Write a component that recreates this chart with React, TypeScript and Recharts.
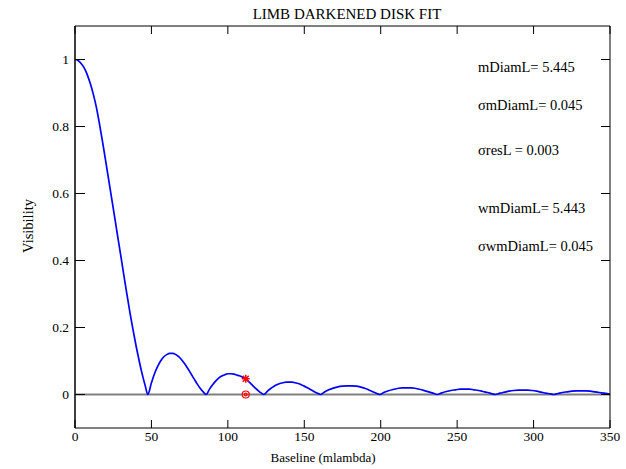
import React from 'react';
import { ComposedChart, Line, Scatter, XAxis, YAxis, ReferenceLine } from 'recharts';

// baseline (mlambda) and fitted visibility
const baseline = [
  0, 2, 4, 6, 8, 10, 12, 14, 16, 18, 20, 22, 24, 26, 28, 30, 32, 34, 36, 38, 40, 42, 44, 46, 47.6,
  50, 52, 54, 56, 58, 60, 62, 64, 66, 68, 70, 72, 74, 76, 78, 80, 82, 84, 85.8,
  88, 90, 92, 94, 96, 98, 100, 102, 104, 106, 108, 110, 112, 114, 116, 118, 120, 122, 123.5,
  126, 128, 130, 132, 134, 136, 138, 140, 142, 144, 146, 148, 150, 152, 154, 156, 158, 160.8,
  163, 166, 169, 172, 175, 178, 181, 184, 187, 190, 193, 196, 199.5,
  202, 205, 208, 211, 214, 217, 220, 223, 226, 229, 232, 235, 237,
  240, 243, 246, 249, 252, 255, 258, 261, 264, 267, 270, 273, 275,
  278, 281, 284, 287, 290, 293, 296, 299, 302, 305, 308, 311, 313,
  316, 319, 322, 325, 328, 331, 334, 337, 340, 343, 346, 349, 350,
];
const visibility = [
  1, 0.997, 0.988, 0.975, 0.955, 0.928, 0.896, 0.857, 0.808, 0.755, 0.699, 0.642, 0.585, 0.528, 0.47, 0.413, 0.355, 0.298, 0.243, 0.192, 0.144, 0.1, 0.06, 0.025, 0,
  0.035, 0.062, 0.083, 0.1, 0.112, 0.119, 0.123, 0.123, 0.119, 0.112, 0.102, 0.09, 0.076, 0.061, 0.046, 0.031, 0.018, 0.007, 0,
  0.016, 0.029, 0.04, 0.049, 0.055, 0.059, 0.062, 0.062, 0.061, 0.058, 0.055, 0.051, 0.045, 0.037, 0.028, 0.019, 0.011, 0.004, 0,
  0.01, 0.018, 0.024, 0.029, 0.033, 0.035, 0.037, 0.037, 0.037, 0.035, 0.033, 0.029, 0.025, 0.02, 0.015, 0.01, 0.005, 0,
  0.007, 0.014, 0.019, 0.023, 0.025, 0.026, 0.026, 0.025, 0.022, 0.018, 0.012, 0.006, 0,
  0.006, 0.011, 0.015, 0.018, 0.02, 0.02, 0.02, 0.018, 0.015, 0.011, 0.007, 0.003, 0,
  0.005, 0.009, 0.012, 0.014, 0.016, 0.016, 0.016, 0.014, 0.012, 0.009, 0.006, 0.002, 0,
  0.004, 0.007, 0.01, 0.012, 0.013, 0.013, 0.013, 0.012, 0.01, 0.007, 0.004, 0.002, 0,
  0.003, 0.006, 0.008, 0.01, 0.011, 0.011, 0.011, 0.01, 0.008, 0.006, 0.004, 0.002, 0.001,
];

// measured point (star) and its residual (circle)
const measured = [{ x: 111.7, y: 0.047 }];
const residual = [{ x: 111.7, y: 0 }];

const xTicks = [0, 50, 100, 150, 200, 250, 300, 350];
const yTicks = [0, 0.2, 0.4, 0.6, 0.8, 1];

const notes = [
  { text: 'mDiamL= 5.445', top: 67 },
  { text: 'σmDiamL= 0.045', top: 105 },
  { text: 'σresL = 0.003', top: 150 },
  { text: 'wmDiamL= 5.443', top: 208 },
  { text: 'σwmDiamL= 0.045', top: 246 },
];

const curve = baseline.map((x, i) => ({ x, y: visibility[i] }));

const FONT = '"Liberation Serif", "Times New Roman", serif';

const LeftTick = (props: any) => {
  const { x, y, payload } = props;
  return (
    <g>
      <line x1={x} x2={x + 10} y1={y} y2={y} stroke="#000" />
      <text x={x - 6} y={y} dy={4.5} textAnchor="end" fontFamily={FONT} fontSize={13.5} fill="#000">
        {payload.value}
      </text>
    </g>
  );
};

const RightTick = (props: any) => {
  const { x, y } = props;
  return <line x1={x} x2={x - 9} y1={y} y2={y} stroke="#000" />;
};

const BottomTick = (props: any) => {
  const { x, y, payload } = props;
  return (
    <g>
      <line x1={x} x2={x} y1={y} y2={y - 8} stroke="#000" />
      <text x={x} y={y + 13} textAnchor="middle" fontFamily={FONT} fontSize={13.5} fill="#000">
        {payload.value}
      </text>
    </g>
  );
};

const TopTick = (props: any) => {
  const { x, y } = props;
  return <line x1={x} x2={x} y1={y} y2={y + 8} stroke="#000" />;
};

const Star = (props: any) => {
  const { cx, cy } = props;
  const r = 4;
  return (
    <g stroke="#ff0000" strokeWidth={1.5}>
      <line x1={cx - r} x2={cx + r} y1={cy} y2={cy} />
      <line x1={cx} x2={cx} y1={cy - r} y2={cy + r} />
      <line x1={cx - 3} x2={cx + 3} y1={cy - 3} y2={cy + 3} />
      <line x1={cx - 3} x2={cx + 3} y1={cy + 3} y2={cy - 3} />
    </g>
  );
};

const Ring = (props: any) => {
  const { cx, cy } = props;
  return (
    <g stroke="#ff0000" fill="none" strokeWidth={1.2}>
      <circle cx={cx} cy={cy} r={3.5} />
      <circle cx={cx} cy={cy} r={1.4} />
    </g>
  );
};

export default function App() {
  return (
    <div style={{ position: 'absolute', left: 0, top: 0, width: 626, height: 469, background: '#fff', fontFamily: FONT }}>
      <ComposedChart width={626} height={469} margin={{ top: 16, right: 6, left: 15, bottom: 11 }}>
        <XAxis
          xAxisId="b"
          dataKey="x"
          type="number"
          domain={[0, 350]}
          ticks={xTicks}
          height={30}
          tickSize={0}
          tickMargin={0}
          tickLine={false}
          axisLine={{ stroke: '#000' }}
          tick={<BottomTick />}
          allowDataOverflow
        />
        <XAxis
          xAxisId="t"
          orientation="top"
          dataKey="x"
          type="number"
          domain={[0, 350]}
          ticks={xTicks}
          height={10}
          tickSize={0}
          tickMargin={0}
          tickLine={false}
          axisLine={{ stroke: '#000' }}
          tick={<TopTick />}
          allowDataOverflow
        />
        <YAxis
          yAxisId="l"
          type="number"
          domain={[-0.1, 1.1]}
          ticks={yTicks}
          width={60}
          tickSize={0}
          tickMargin={0}
          tickLine={false}
          axisLine={{ stroke: '#000' }}
          tick={<LeftTick />}
          allowDataOverflow
        />
        <YAxis
          yAxisId="r"
          orientation="right"
          type="number"
          domain={[-0.1, 1.1]}
          ticks={yTicks}
          width={10}
          tickSize={0}
          tickMargin={0}
          tickLine={false}
          axisLine={{ stroke: '#000' }}
          tick={<RightTick />}
          allowDataOverflow
        />
        <ReferenceLine xAxisId="b" yAxisId="l" y={0} stroke="#808080" strokeWidth={2} />
        <ReferenceLine xAxisId="b" yAxisId="l" x={0} stroke="#808080" strokeWidth={2} />
        <Line
          xAxisId="b"
          yAxisId="l"
          data={curve}
          dataKey="y"
          type="monotone"
          stroke="#0000ff"
          strokeWidth={1.7}
          dot={false}
          isAnimationActive={false}
        />
        <Scatter xAxisId="b" yAxisId="l" data={residual} dataKey="y" shape={<Ring />} isAnimationActive={false} />
        <Scatter xAxisId="b" yAxisId="l" data={measured} dataKey="y" shape={<Star />} isAnimationActive={false} />
      </ComposedChart>

      <div style={{ position: 'absolute', left: 247, width: 200, top: 4, textAlign: 'center', fontSize: 15, lineHeight: '20px', whiteSpace: 'nowrap', color: '#000' }}>
        LIMB DARKENED DISK FIT
      </div>
      <div style={{ position: 'absolute', left: 223, width: 200, top: 449, textAlign: 'center', fontSize: 13, lineHeight: '18px', whiteSpace: 'nowrap', color: '#000' }}>
        Baseline (mlambda)
      </div>
      <div
        style={{
          position: 'absolute',
          left: 28,
          top: 226,
          transform: 'translate(-50%, -50%) rotate(-90deg)',
          fontSize: 14.5,
          lineHeight: '18px',
          whiteSpace: 'nowrap',
          color: '#000',
        }}
      >
        Visibility
      </div>
      {notes.map((n) => (
        <div
          key={n.text}
          style={{ position: 'absolute', left: 478, top: n.top - 10, fontSize: 14.5, lineHeight: '20px', whiteSpace: 'nowrap', color: '#000' }}
        >
          {n.text}
        </div>
      ))}
    </div>
  );
}
